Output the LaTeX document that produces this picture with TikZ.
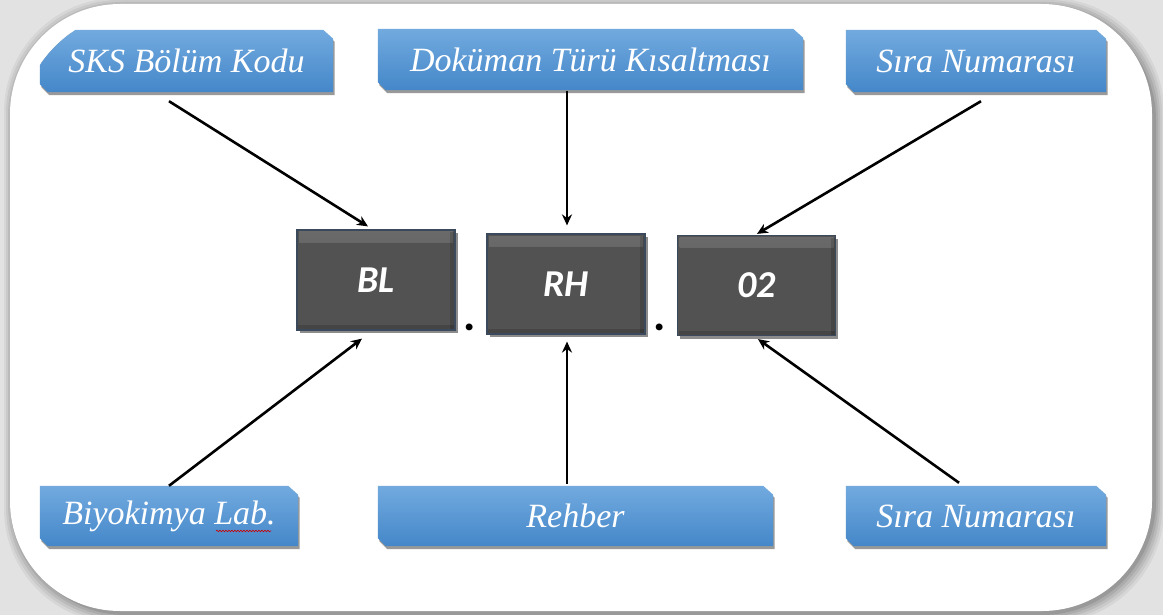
\documentclass[tikz,border=0pt]{standalone}
\usepackage{fontspec}
\usetikzlibrary{shadows,arrows.meta,calc,decorations.pathmorphing}
\newfontfamily\bluefont{Liberation Serif}
\newfontfamily\darkfont{Carlito}
\definecolor{bluetop}{HTML}{72AADF}
\definecolor{bluebot}{HTML}{4487C9}
\definecolor{darkfill}{HTML}{525252}
\definecolor{darkedge}{HTML}{3A4A5C}
\definecolor{bggray}{HTML}{E2E2E2}
\pgfdeclarelayer{frame}
\pgfdeclarelayer{boxes}
\pgfsetlayers{frame,boxes,main}
\newcommand{\snipbox}[1]{%
  \path[bluefill] (#1.north west) -- ($(#1.north east)+(-10,0)$) -- ($(#1.north east)+(0,9)$)
    -- (#1.south east) -- ($(#1.south west)+(8,0)$) -- ($(#1.south west)+(0,-8)$) -- cycle;}
\begin{document}
\begin{tikzpicture}[x=1pt,y=-1pt,
  bluebox/.style={rectangle, draw=none, inner sep=0pt,
    text=white, font=\bluefont\itshape\fontsize{34}{36}\selectfont},
  bluefill/.style={top color=bluetop, bottom color=bluebot, draw=none,
    drop shadow={shadow xshift=1.5pt,shadow yshift=-3pt,opacity=0.4,fill=black}},
  darkbox/.style={rectangle, fill=darkfill, draw=darkedge, line width=1.2pt,
    minimum width=158pt, minimum height=100pt, inner sep=0pt,
    text=white, font=\darkfont\bfseries\itshape\fontsize{38}{40}\selectfont,
    drop shadow={shadow xshift=2.5pt,shadow yshift=-3pt,opacity=0.45,fill=black},
    path picture={
      \shade[top color=white!14!darkfill, bottom color=darkfill] ($(path picture bounding box.north west)+(2,2)$) rectangle ($(path picture bounding box.north east)+(-2,12)$);
      \fill[black,opacity=0.15] ($(path picture bounding box.north east)+(-5,2)$) rectangle ($(path picture bounding box.south east)+(-1,-1)$);
      \fill[black,opacity=0.15] ($(path picture bounding box.south west)+(1,-5)$) rectangle ($(path picture bounding box.south east)+(-1,-1)$);
    }},
  dotmark/.style={inner sep=0pt, anchor=base, font=\darkfont\bfseries\fontsize{46}{48}\selectfont},
  arr/.style={line width=2.6pt, -{Stealth[length=11pt,width=10pt]}}
]
\useasboundingbox (0,0) rectangle (1163,615);
% background and frame
\begin{pgfonlayer}{frame}
\fill[bggray] (0,0) rectangle (1163,615);
\foreach \i/\o in {9/0.05,7/0.06,5/0.07,3/0.08,1/0.10}
  \fill[black,opacity=\o,rounded corners=114pt] ({10-\i+3},{4-\i+3}) rectangle ({1152+\i+3},{611+\i+3});
\fill[white,rounded corners=110pt] (10,4) rectangle (1152,611);
\end{pgfonlayer}

% blue boxes
\node[bluebox, minimum width=293pt, minimum height=62pt] (b1) at (186.5,61) {SKS Bölüm Kodu};
\node[bluebox, minimum width=425pt, minimum height=61pt] (b2) at (590.5,59.5) {Doküman Türü Kısaltması};
\node[bluebox, minimum width=260pt, minimum height=62pt] (b3) at (976,61) {Sıra Numarası};
\node[bluebox, minimum width=258pt, minimum height=60pt] (b4) at (169,516) {Biyokimya Lab.};
\node[bluebox, minimum width=395pt, minimum height=60pt] (b5) at (575.5,516) {Rehber};
\node[bluebox, minimum width=260pt, minimum height=60pt] (b6) at (976,516) {Sıra Numarası};
\begin{pgfonlayer}{boxes}
\begin{scope}
\clip (30,120) -- (30,68) -- (38,68) .. controls (48,52) and (62,38) .. (80,27) -- (345,20) -- (345,120) -- cycle;
\snipbox{b1}
\end{scope}
\snipbox{b2}\snipbox{b3}\snipbox{b4}\snipbox{b5}\snipbox{b6}
\end{pgfonlayer}
\draw[red!80!black, line width=0.6pt, decorate, decoration={snake, amplitude=0.8pt, segment length=3pt}] (216,531) -- (271,531);

% dark boxes
\node[darkbox] (bl) at (376,280) {BL};
\node[darkbox] (rh) at (566,284) {RH};
\node[darkbox] (nr) at (756.5,285.5) {02};
\node[dotmark] (d1) at (470,330) {.};
\node[dotmark] (d2) at (660,330) {.};

% connectors
\draw[arr] ($(b1.south)+(-17.5,9)$) -- ($(bl.north)+(-8,-3)$);
\draw[arr] ($(b2.south)+(-23.5,1)$) -- ($(rh.north)+(1,-8)$);
\draw[arr] ($(b3.south)+(5,9)$) -- ($(nr.north)+(0.5,-1)$);
\draw[arr] ($(b4.north)+(0,0)$) -- ($(bl.south)+(-14,8)$);
\draw[arr] ($(b5.north)+(-8.5,-2)$) -- ($(rh.south)+(1,7)$);
\draw[arr] ($(b6.north)+(-17,-3)$) -- ($(nr.south)+(1.5,3)$);
\end{tikzpicture}
\end{document}
